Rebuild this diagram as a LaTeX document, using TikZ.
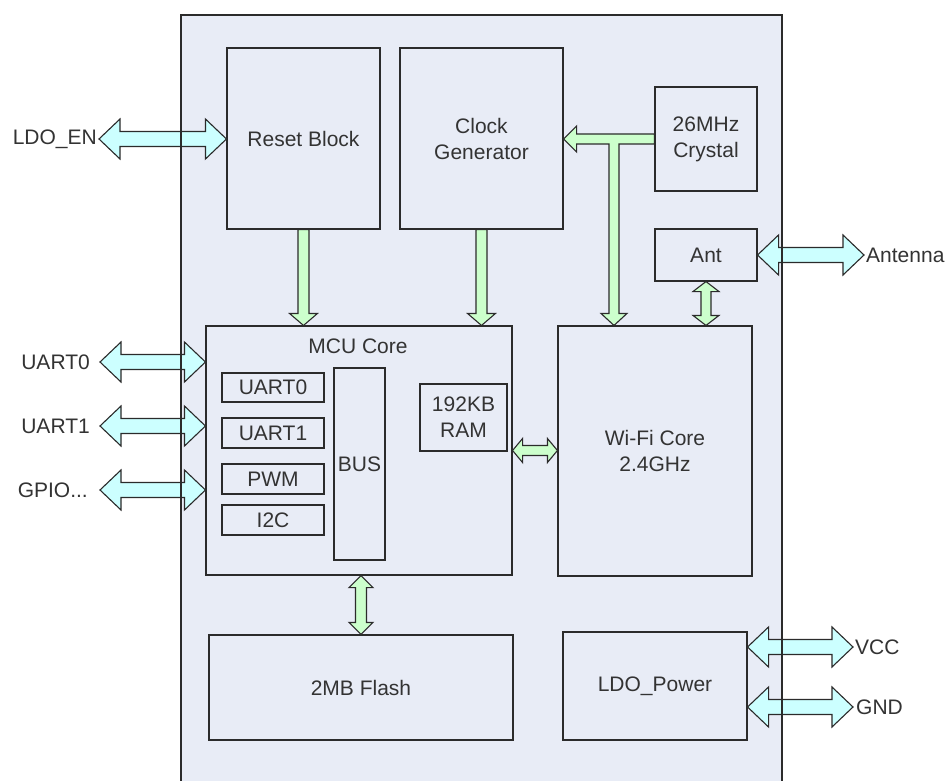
\documentclass[tikz,border=0pt]{standalone}
\usepackage{fontspec}
\setmainfont{Liberation Sans}
\usetikzlibrary{calc}
\definecolor{panel}{HTML}{E8ECF6}
\definecolor{cyanfill}{HTML}{CCFFFF}
\definecolor{greenfill}{HTML}{CCFFCC}
\definecolor{ink}{HTML}{2B2B2B}
\definecolor{txt}{HTML}{333333}
% horizontal double arrow: style, left, right, half shaft, half head, head length
\newcommand{\hdarrow}[6]{\draw[#1] let \p1=(#2), \p2=(#3) in
 (\x1,\y1) -- (\x1+#6,\y1+#5) -- (\x1+#6,\y1+#4) -- (\x2-#6,\y1+#4) -- (\x2-#6,\y1+#5) -- (\x2,\y1)
 -- (\x2-#6,\y1-#5) -- (\x2-#6,\y1-#4) -- (\x1+#6,\y1-#4) -- (\x1+#6,\y1-#5) -- cycle;}
% vertical double arrow: style, top, bottom, half shaft, half head, head length
\newcommand{\vdarrow}[6]{\draw[#1] let \p1=(#2), \p2=(#3) in
 (\x1,\y1) -- (\x1+#5,\y1-#6) -- (\x1+#4,\y1-#6) -- (\x1+#4,\y2+#6) -- (\x1+#5,\y2+#6) -- (\x1,\y2)
 -- (\x1-#5,\y2+#6) -- (\x1-#4,\y2+#6) -- (\x1-#4,\y1-#6) -- (\x1-#5,\y1-#6) -- cycle;}
% vertical single arrow pointing down: style, tail (top), tip (bottom), half shaft, half head, head length
\newcommand{\vsarrow}[6]{\draw[#1] let \p1=(#2), \p2=(#3) in
 (\x1-#4,\y1) -- (\x1+#4,\y1) -- (\x1+#4,\y2+#6) -- (\x1+#5,\y2+#6) -- (\x1,\y2)
 -- (\x1-#5,\y2+#6) -- (\x1-#4,\y2+#6) -- cycle;}
\begin{document}
\begin{tikzpicture}[x=1pt,y=-1pt,
  blk/.style={draw=ink, line width=1.1pt, fill=panel, text=txt, inner sep=0pt, align=center,
              font=\fontsize{21}{26}\selectfont},
  lbl/.style={text=txt, inner sep=0pt, align=center, font=\fontsize{21}{26}\selectfont},
  carrow/.style={draw=ink, line width=1.1pt, fill=cyanfill, line join=miter},
  garrow/.style={draw=ink, line width=1.1pt, fill=greenfill, line join=miter}]
\useasboundingbox (0,0) rectangle (946,781);
\fill[white] (0,0) rectangle (946,781);
% chip panel
\fill[panel] (181,15) rectangle (782,781);
% blocks
\node[blk, minimum width=153pt, minimum height=181pt] (reset) at (303.5,138.5) {Reset Block};
\node[blk, minimum width=163pt, minimum height=181pt] (clock) at (481.5,138.5) {Clock\\Generator};
\node[blk, minimum width=102pt, minimum height=104pt] (crystal) at (706,139) {26MHz\\Crystal};
\node[blk, minimum width=102pt, minimum height=52pt] (ant) at (706,255) {Ant};
\node[blk, minimum width=306pt, minimum height=249pt] (mcu) at (359,450.5) {};
\node[lbl] (mcut) at (358,346) {MCU Core};
\node[blk, minimum width=194pt, minimum height=250pt] (wifi) at (655,451) {Wi-Fi Core\\2.4GHz};
\node[blk, minimum width=102pt, minimum height=29pt] (uart0) at (273,387.5) {UART0};
\node[blk, minimum width=102pt, minimum height=30pt] (uart1) at (273,433) {UART1};
\node[blk, minimum width=102pt, minimum height=30pt] (pwm) at (273,479) {PWM};
\node[blk, minimum width=102pt, minimum height=30pt] (i2c) at (273,520) {I2C};
\node[blk, minimum width=51pt, minimum height=192pt] (bus) at (359.5,464) {BUS};
\node[blk, minimum width=87pt, minimum height=67pt] (ram) at (463.5,417.5) {192KB\\RAM};
\node[blk, minimum width=304pt, minimum height=105pt] (flash) at (361,687.5) {2MB Flash};
\node[blk, minimum width=184pt, minimum height=108pt] (ldo) at (655,686) {LDO\_Power};
% external pins
\coordinate (pLDO) at (99,139);
\coordinate (pU0) at (100,362);
\coordinate (pU1) at (100,426);
\coordinate (pGP) at (100,490);
\coordinate (pAnt) at (864,255);
\coordinate (pVCC) at (853,647);
\coordinate (pGND) at (853,707);
\node[lbl, anchor=east] (tLDO) at (97,139) {LDO\_EN};
\node[lbl, anchor=east] (tU0) at (90,362) {UART0};
\node[lbl, anchor=east] (tU1) at (90,426) {UART1};
\node[lbl, anchor=east] (tGP) at (88,490) {GPIO...};
\node[lbl, anchor=west] (tAnt) at (866,255) {Antenna};
\node[lbl, anchor=west] (tVCC) at (855,647) {VCC};
\node[lbl, anchor=west] (tGND) at (856,707) {GND};
% cyan pin arrows
\hdarrow{carrow}{pLDO}{reset.west |- pLDO}{7.5pt}{20pt}{21pt}
\hdarrow{carrow}{pU0}{mcu.west |- pU0}{7.5pt}{20pt}{21pt}
\hdarrow{carrow}{pU1}{mcu.west |- pU1}{7.5pt}{20pt}{21pt}
\hdarrow{carrow}{pGP}{mcu.west |- pGP}{7.5pt}{20pt}{21pt}
\hdarrow{carrow}{ant.east}{pAnt}{7.5pt}{20pt}{21pt}
\hdarrow{carrow}{ldo.east |- pVCC}{pVCC}{7.5pt}{20pt}{21pt}
\hdarrow{carrow}{ldo.east |- pGND}{pGND}{7.5pt}{20pt}{21pt}
% green internal arrows
\vsarrow{garrow}{reset.south}{reset.south |- mcu.north}{5.5pt}{14pt}{12pt}
\vsarrow{garrow}{clock.south}{clock.south |- mcu.north}{5.5pt}{14pt}{12pt}
\vdarrow{garrow}{ant.south}{ant.south |- wifi.north}{5pt}{13pt}{10pt}
\hdarrow{garrow}{mcu.east}{wifi.west |- mcu.east}{5pt}{12pt}{10pt}
\vdarrow{garrow}{mcu.south -| flash.north}{flash.north}{5.5pt}{12pt}{12pt}
\coordinate (tee) at (614,139);
\draw[garrow] let \p1=(crystal.west), \p2=(clock.east), \p3=(tee), \p4=(wifi.north) in
 (\x1,\y1+5pt) -- (\x2+13pt,\y1+5pt) -- (\x2+13pt,\y1+13pt) -- (\x2,\y1) -- (\x2+13pt,\y1-13pt)
 -- (\x2+13pt,\y1-5pt) -- (\x3-5pt,\y1-5pt) -- (\x3-5pt,\y4+12pt) -- (\x3-13pt,\y4+12pt) -- (\x3,\y4)
 -- (\x3+13pt,\y4+12pt) -- (\x3+5pt,\y4+12pt) -- (\x3+5pt,\y1-5pt) -- (\x1,\y1-5pt) -- cycle;
% chip outline on top
\draw[ink, line width=1.3pt] (181,781) -- (181,15) -- (782,15) -- (782,781);
\end{tikzpicture}
\end{document}
